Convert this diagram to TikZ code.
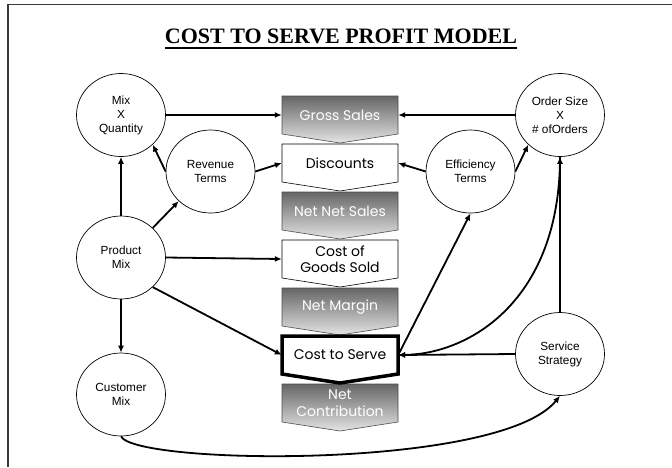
\documentclass[tikz,border=0pt]{standalone}
\usepackage{fontspec}
\setmainfont{Liberation Sans}
\newfontfamily\titlefont{Liberation Serif}
\newfontfamily\chevfont{Poppins}
\usetikzlibrary{shapes.geometric,arrows.meta,calc}

\definecolor{framegray}{HTML}{3A3A3A}
\definecolor{chevdark}{HTML}{666666}
\definecolor{chevlight}{HTML}{E4E4E4}

\tikzset{
  factor/.style={ellipse, draw, line width=0.7pt, minimum width=89pt, minimum height=83pt,
    inner sep=0pt, align=center, font=\fontsize{11.8}{14}\selectfont},
  link/.style={line width=1.8pt, -{Latex[length=7pt,width=6pt]}},
  chevlabel/.style={inner sep=0pt, minimum width=116pt, minimum height=38pt, align=center,
    font=\chevfont\fontsize{14}{16.5}\selectfont},
  shadedchev/.style={top color=chevdark, bottom color=chevlight, draw=black!70, line width=0.6pt},
  plainchev/.style={fill=white, draw=black, line width=0.6pt},
  boldchev/.style={fill=white, draw=black, line width=3.5pt, line join=miter},
}

% one step of the profit cascade: name, top edge, outline style, text colour, label
\newcommand\chevblock[5]{%
  \path[#3] (282,#2) -- (398,#2) -- (398,#2+38) -- (340,#2+47) -- (282,#2+38) -- cycle;
  \node[chevlabel, text=#4] (#1) at (340,#2+19) {#5};
}

\begin{document}
\begin{tikzpicture}[x=1pt, y=-1pt]
  \useasboundingbox (0,0) rectangle (672,467);

  % page frame (left and top edges)
  \draw[framegray, line width=1.5pt] (8,467) -- (8,4.3) -- (672,4.3);

  % title
  \node[inner sep=0pt, anchor=base, font=\titlefont\bfseries\fontsize{22}{26}\selectfont]
    (title) at (341,43) {COST TO SERVE PROFIT MODEL};
  \draw[line width=1.3pt] ([yshift=-5pt]title.base west) -- ([yshift=-5pt]title.base east);

  % profit cascade
  \chevblock{gs}{96}{shadedchev}{white}{Gross Sales}
  \chevblock{disc}{144}{plainchev}{black}{Discounts}
  \chevblock{nns}{192}{shadedchev}{white}{Net Net Sales}
  \chevblock{cogs}{240}{plainchev}{black}{Cost of\\Goods Sold}
  \chevblock{nm}{288}{shadedchev}{white}{Net Margin}
  \chevblock{nc}{384}{shadedchev}{white}{Net\\Contribution}
  \chevblock{cts}{336}{boldchev}{black}{Cost to Serve}

  % drivers
  \node[factor] (mxq) at (121,115)   {Mix\\X\\Quantity};
  \node[factor] (rt)  at (210.5,171.5) {Revenue\\Terms};
  \node[factor] (pm)  at (121,257.5) {Product\\Mix};
  \node[factor] (cm)  at (121,394.5) {Customer\\Mix};
  \node[factor] (os)  at (560,115)   {Order Size\\X\\\# ofOrders};
  \node[factor] (et)  at (470.5,171.5) {Efficiency\\Terms};
  \node[factor] (ss)  at (560,354)   {Service\\Strategy};

  % links
  \draw[link] (mxq.east) -- (gs.west);
  \draw[link] (os.west) -- (gs.east);
  \draw[link] (rt.east) -- (disc.west);
  \draw[link] (rt.west) -- (mxq.-43);
  \draw[link] (pm.north) -- (mxq.south);
  \draw[link] (pm.43) -- (rt.-137);
  \draw[link] (pm.east) -- (cogs.west);
  \draw[link] (pm.south) -- (cm.north);
  \draw[link] (pm.-43) -- (cts.west);
  \draw[link] (et.west) -- (disc.east);
  \draw[link] (et.east) -- (os.-137);
  \draw[link] (cts.east) -- (et.south);
  \draw[link] (os.south) .. controls (560,300) and (470,354) .. (cts.east);
  \draw[link] (ss.north) -- (os.south);
  \draw[link] (ss.west) -- (cts.east);
  \draw[link] (cm.south) .. controls (135,465) and (500,470) .. (ss.south);
\end{tikzpicture}
\end{document}
